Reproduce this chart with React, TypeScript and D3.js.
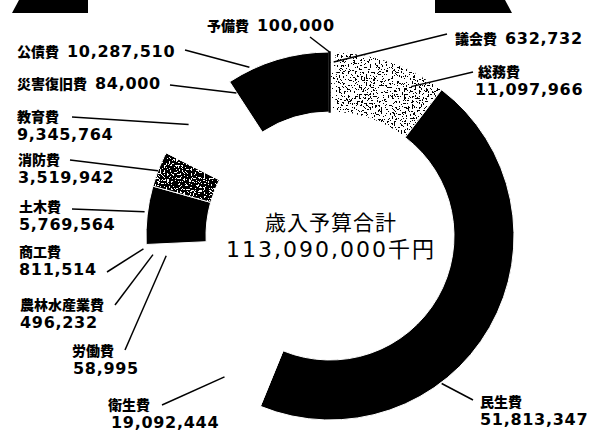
import React from 'react';
import * as d3 from 'd3';

// 歳出予算の内訳（千円）— 12時の位置から時計回り
const categories = [
  '議会費', '総務費', '民生費', '衛生費', '労働費', '農林水産業費',
  '商工費', '土木費', '消防費', '教育費', '災害復旧費', '公債費', '予備費'
];
const values = [
  632732, 11097966, 51813347, 19092444, 58995, 496232,
  811514, 5769564, 3519942, 9345764, 84000, 10287510, 100000
];
const valueLabels = [
  '632,732', '11,097,966', '51,813,347', '19,092,444', '58,995', '496,232',
  '811,514', '5,769,564', '3,519,942', '9,345,764', '84,000', '10,287,510', '100,000'
];
const totalTitle = '歳入予算合計';
const totalText = '113,090,000千円';

const W = 597;
const H = 440;
const CX = 330;
const CY = 236;
const R_OUT = 184;
const R_IN = 124;

// slice fills
const FILL: Record<string, string> = {
  議会費: 'url(#speckFaint)',
  総務費: 'url(#speckLight)',
  民生費: '#000',
  衛生費: '#fff',
  労働費: '#fff',
  農林水産業費: '#fff',
  商工費: '#fff',
  土木費: '#000',
  消防費: 'url(#speckDark)',
  教育費: '#fff',
  災害復旧費: '#fff',
  公債費: '#000',
  予備費: '#000'
};

// label placement: baseline of name line (x,y), value line (vx,vy) or inline,
// leader start (lx,ly), leader end = fraction f of the slice angle at radius r
type Lay = {x: number; y: number; inline?: boolean; vx?: number; vy?: number;
  lx: number; ly: number; f: number; r: number};
const LAYOUT: Record<string, Lay> = {
  予備費: {x: 207, y: 31, inline: true, lx: 310, ly: 37, f: 0.5, r: 184},
  議会費: {x: 455, y: 44, inline: true, lx: 447, ly: 34, f: 0.6, r: 174},
  総務費: {x: 478, y: 77, vx: 475, vy: 95, lx: 473, ly: 72, f: 0.75, r: 170},
  民生費: {x: 480, y: 407, vx: 480, vy: 425, lx: 473, ly: 400, f: 0.64, r: 185},
  衛生費: {x: 108, y: 410, vx: 111, vy: 428, lx: 162, ly: 405, f: 0.24, r: 176},
  労働費: {x: 72, y: 356, vx: 73, vy: 374, lx: 125, ly: 350, f: 0.5, r: 165},
  農林水産業費: {x: 20, y: 310, vx: 20, vy: 328, lx: 115, ly: 305, f: 0.5, r: 178},
  商工費: {x: 19, y: 257, vx: 19, vy: 275, lx: 107, ly: 272, f: 0.5, r: 187},
  土木費: {x: 19, y: 212, vx: 19, vy: 230, lx: 72, ly: 209, f: 0.55, r: 187},
  消防費: {x: 18, y: 165, vx: 18, vy: 183, lx: 70, ly: 160, f: 0.45, r: 184},
  教育費: {x: 17, y: 122, vx: 17, vy: 140, lx: 72, ly: 117, f: 0.38, r: 180},
  災害復旧費: {x: 17, y: 89, inline: true, lx: 170, ly: 85, f: 0.5, r: 171},
  公債費: {x: 17, y: 57, inline: true, lx: 185, ly: 50, f: 0.23, r: 187}
};

const nameFont = {fontFamily: "'Noto Sans CJK JP', sans-serif", fontWeight: 900, fontSize: 14};
const numFont = {fontFamily: "'DejaVu Sans', sans-serif", fontWeight: 700, fontSize: 16, letterSpacing: 0.7};

function Speck({id, bg, fg, table, seed, freq}: {id: string; bg: string; fg: string;
  table: string; seed: number; freq: number}) {
  return (
    <>
      <filter id={id + '-f'} x="0" y="0" width="100%" height="100%">
        <feTurbulence type="fractalNoise" baseFrequency={freq} numOctaves={2} seed={seed} result="n"/>
        <feColorMatrix in="n" type="matrix"
          values="0 0 0 0 0  0 0 0 0 0  0 0 0 0 0  1 0 0 0 0" result="a"/>
        <feComponentTransfer in="a" result="t">
          <feFuncA type="discrete" tableValues={table}/>
        </feComponentTransfer>
        <feFlood floodColor={fg} result="c"/>
        <feComposite in="c" in2="t" operator="in"/>
      </filter>
      <pattern id={id} patternUnits="userSpaceOnUse" width={W} height={H}>
        <rect width={W} height={H} fill={bg}/>
        <rect width={W} height={H} fill="#000" filter={`url(#${id}-f)`}/>
      </pattern>
    </>
  );
}

export default function App() {
  const pie = d3.pie<number>().sort(null).value(d => d)
    .startAngle(0).endAngle(2 * Math.PI);
  const arcs = pie(values);
  const arc = d3.arc<d3.PieArcDatum<number>>().innerRadius(R_IN).outerRadius(R_OUT);

  const pointOn = (a: d3.PieArcDatum<number>, f: number, r: number) => {
    const ang = a.startAngle + f * (a.endAngle - a.startAngle);
    return [CX + r * Math.sin(ang), CY - r * Math.cos(ang)];
  };

  return (
    <svg width={W} height={H} style={{position: 'absolute', left: 0, top: 0, background: '#fff'}}>
      <defs>
        <Speck id="speckLight" bg="#fff" fg="#000" seed={3} freq={0.55}
          table="1 1 1 1 1 1 1 1 0 0 0 0 0 0 0 0 0 0 0 0"/>
        <Speck id="speckFaint" bg="#fff" fg="#000" seed={7} freq={0.55}
          table="1 1 1 1 1 1 0 0 0 0 0 0 0 0 0 0 0 0 0 0"/>
        <Speck id="speckDark" bg="#000" fg="#fff" seed={5} freq={0.55}
          table="1 1 1 1 1 1 1 1 0 0 0 0 0 0 0 0 0 0 0 0"/>
      </defs>

      {/* scan corner marks */}
      <path d="M12,13 L19,0 L88,0 L88,13 Z" fill="#000"/>
      <path d="M435,0 L505,0 L512,13 L435,13 Z" fill="#000"/>

      <g transform={`translate(${CX},${CY})`}>
        {arcs.map((a, i) => (
          <path key={categories[i]} d={arc(a) || ''} fill={FILL[categories[i]]}
            stroke={categories[i] === '予備費' ? '#000' : '#fff'}
            strokeWidth={categories[i] === '予備費' ? 1.5 : 1}/>
        ))}
      </g>

      {arcs.map((a, i) => {
        const name = categories[i];
        const L = LAYOUT[name];
        const [ex, ey] = pointOn(a, L.f, L.r);
        return (
          <g key={name}>
            <line x1={L.lx} y1={L.ly} x2={ex} y2={ey} stroke="#000" strokeWidth={1.5}/>
            {L.inline ? (
              <text x={L.x} y={L.y} fill="#000">
                <tspan {...nameFont}>{name}</tspan>
                <tspan dx={8} {...numFont}>{valueLabels[i]}</tspan>
              </text>
            ) : (
              <>
                <text x={L.x} y={L.y} fill="#000" {...nameFont}>{name}</text>
                <text x={L.vx} y={L.vy} fill="#000" {...numFont}>{valueLabels[i]}</text>
              </>
            )}
          </g>
        );
      })}

      <text x={CX + 1} y={230} textAnchor="middle" fill="#000"
        fontFamily="'Noto Sans CJK JP', sans-serif" fontSize={21} letterSpacing={1}>
        {totalTitle}
      </text>
      <text x={CX + 1} y={257} textAnchor="middle" fill="#000"
        fontFamily="'DejaVu Sans', 'Noto Sans CJK JP', sans-serif" fontSize={22} letterSpacing={2}>
        {totalText}
      </text>
    </svg>
  );
}
